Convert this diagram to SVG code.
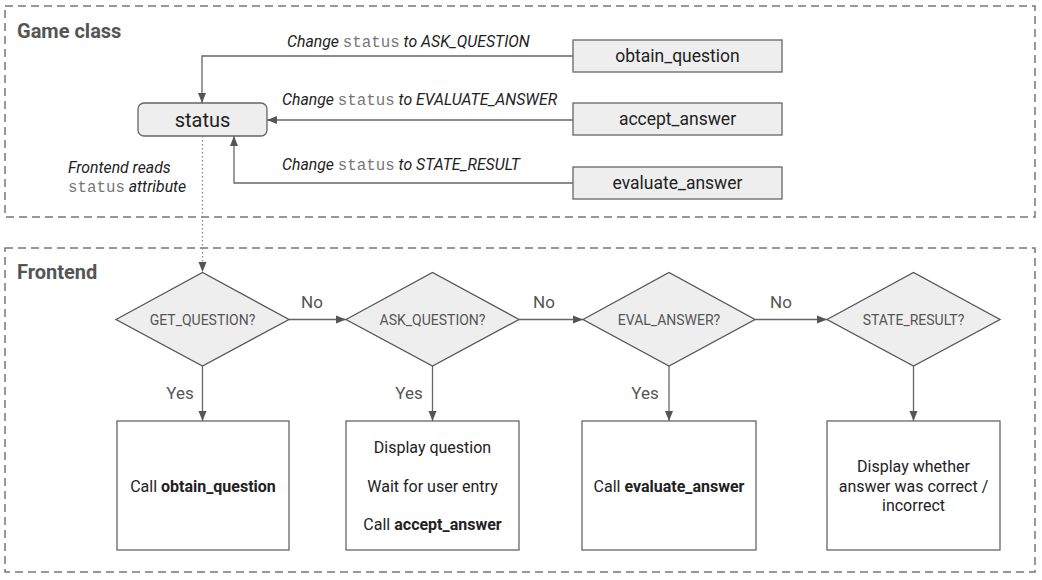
<svg xmlns="http://www.w3.org/2000/svg" width="1042" height="580" viewBox="0 0 1042 580">
<defs>
<marker id="arr" markerWidth="10" markerHeight="10" refX="10" refY="5" orient="auto" markerUnits="userSpaceOnUse">
<path d="M0,1 L10,5 L0,9 Z" fill="#555"/>
</marker>
<style>
.cont{fill:none;stroke:#777;stroke-width:1.5;stroke-dasharray:8,5}
.title{font-family:Roboto,"Liberation Sans",sans-serif;font-weight:bold;font-size:20px;fill:#555}
.gbox{fill:#eeeeee;stroke:#666;stroke-width:1.3}
.gtxt{font-family:Roboto,"Liberation Sans",sans-serif;font-size:17.5px;fill:#222;text-anchor:middle}
.stxt{font-family:Roboto,"Liberation Sans",sans-serif;font-size:20px;fill:#222;text-anchor:middle}
.conn{fill:none;stroke:#666;stroke-width:1.3}
.dot{fill:none;stroke:#888;stroke-width:1.3;stroke-dasharray:1.5,2.5}
.lbl{font-family:Roboto,"Liberation Sans",sans-serif;font-style:italic;font-size:15.8px;fill:#222}
.mono{font-family:"Liberation Mono","DejaVu Sans Mono",monospace;font-style:normal;fill:#777}
.dia{fill:#eeeeee;stroke:#555;stroke-width:1.3}
.dtxt{font-family:Roboto,"Liberation Sans",sans-serif;font-size:14px;fill:#555;text-anchor:middle}
.yn{font-family:Roboto,"Liberation Sans",sans-serif;font-size:17px;fill:#555;text-anchor:middle}
.box{fill:#fff;stroke:#666;stroke-width:1.3}
.btxt{font-family:Roboto,"Liberation Sans",sans-serif;font-size:16px;fill:#222;text-anchor:middle}
.b{font-weight:bold}
</style>
</defs>

<g id="game-class">
<rect class="cont" x="5" y="6" width="1030" height="211"/>
<text class="title" x="17" y="38">Game class</text>
</g>
<g id="frontend">
<rect class="cont" x="5" y="248" width="1030" height="324"/>
<text class="title" x="17" y="279">Frontend</text>
</g>

<g id="status">
<rect class="gbox" x="138" y="103" width="129" height="33" rx="6"/>
<text class="stxt" x="202.5" y="127">status</text>
</g>
<g id="obtain_question">
<rect class="gbox" x="573" y="40" width="209" height="32"/>
<text class="gtxt" x="677.5" y="62">obtain_question</text>
</g>
<g id="accept_answer">
<rect class="gbox" x="573" y="103" width="209" height="32"/>
<text class="gtxt" x="677.5" y="125">accept_answer</text>
</g>
<g id="evaluate_answer">
<rect class="gbox" x="573" y="167" width="209" height="32"/>
<text class="gtxt" x="677.5" y="189">evaluate_answer</text>
</g>

<g id="d-get">
<polygon class="dia" points="116,319.5 202.5,272.5 289,319.5 202.5,366"/>
<text class="dtxt" x="202.5" y="324.5">GET_QUESTION?</text>
</g>
<g id="d-ask">
<polygon class="dia" points="346,319.5 432.5,272.5 519,319.5 432.5,366"/>
<text class="dtxt" x="432.5" y="324.5">ASK_QUESTION?</text>
</g>
<g id="d-eval">
<polygon class="dia" points="583,319.5 669,272.5 755,319.5 669,366"/>
<text class="dtxt" x="669" y="324.5">EVAL_ANSWER?</text>
</g>
<g id="d-state">
<polygon class="dia" points="827,319.5 913.5,272.5 1000,319.5 913.5,366"/>
<text class="dtxt" x="913.5" y="324.5">STATE_RESULT?</text>
</g>

<g id="b-obtain">
<rect class="box" x="117" y="421" width="172" height="129"/>
<text class="btxt" x="203" y="492">Call <tspan class="b">obtain_question</tspan></text>
</g>
<g id="b-ask">
<rect class="box" x="346" y="421" width="173" height="129"/>
<text class="btxt" x="432.5" y="453">Display question</text>
<text class="btxt" x="432.5" y="492">Wait for user entry</text>
<text class="btxt" x="432.5" y="530">Call <tspan class="b">accept_answer</tspan></text>
</g>
<g id="b-eval">
<rect class="box" x="582" y="421" width="174" height="129"/>
<text class="btxt" x="669" y="492">Call <tspan class="b">evaluate_answer</tspan></text>
</g>
<g id="b-state">
<rect class="box" x="827" y="421" width="173" height="129"/>
<text class="btxt" x="913.5" y="472">Display whether</text>
<text class="btxt" x="913.5" y="492">answer was correct /</text>
<text class="btxt" x="913.5" y="511">incorrect</text>
</g>

<g id="connectors">
<path class="conn" d="M573,56 H202 V103" marker-end="url(#arr)"/>
<path class="conn" d="M573,120 H267" marker-end="url(#arr)"/>
<path class="conn" d="M573,183 H234 V136" marker-end="url(#arr)"/>
<path class="dot" d="M202.5,136 V272" marker-end="url(#arr)"/>
<path class="conn" d="M289,319.5 H346" marker-end="url(#arr)"/>
<path class="conn" d="M519,319.5 H583" marker-end="url(#arr)"/>
<path class="conn" d="M755,319.5 H827" marker-end="url(#arr)"/>
<path class="conn" d="M202.5,366 V421" marker-end="url(#arr)"/>
<path class="conn" d="M432.5,366 V421" marker-end="url(#arr)"/>
<path class="conn" d="M669,366 V421" marker-end="url(#arr)"/>
<path class="conn" d="M913.5,366 V421" marker-end="url(#arr)"/>
<text class="lbl" x="287" y="47">Change <tspan class="mono">status</tspan> to ASK_QUESTION</text>
<text class="lbl" x="282" y="105">Change <tspan class="mono">status</tspan> to EVALUATE_ANSWER</text>
<text class="lbl" x="282" y="170">Change <tspan class="mono">status</tspan> to STATE_RESULT</text>
<text class="lbl" x="68" y="173">Frontend reads</text>
<text class="lbl" x="68" y="192"><tspan class="mono">status</tspan> attribute</text>
<text class="yn" x="312" y="308">No</text>
<text class="yn" x="544" y="308">No</text>
<text class="yn" x="781" y="308">No</text>
<text class="yn" x="180" y="399">Yes</text>
<text class="yn" x="409" y="399">Yes</text>
<text class="yn" x="645" y="399">Yes</text>
</g>
</svg>
